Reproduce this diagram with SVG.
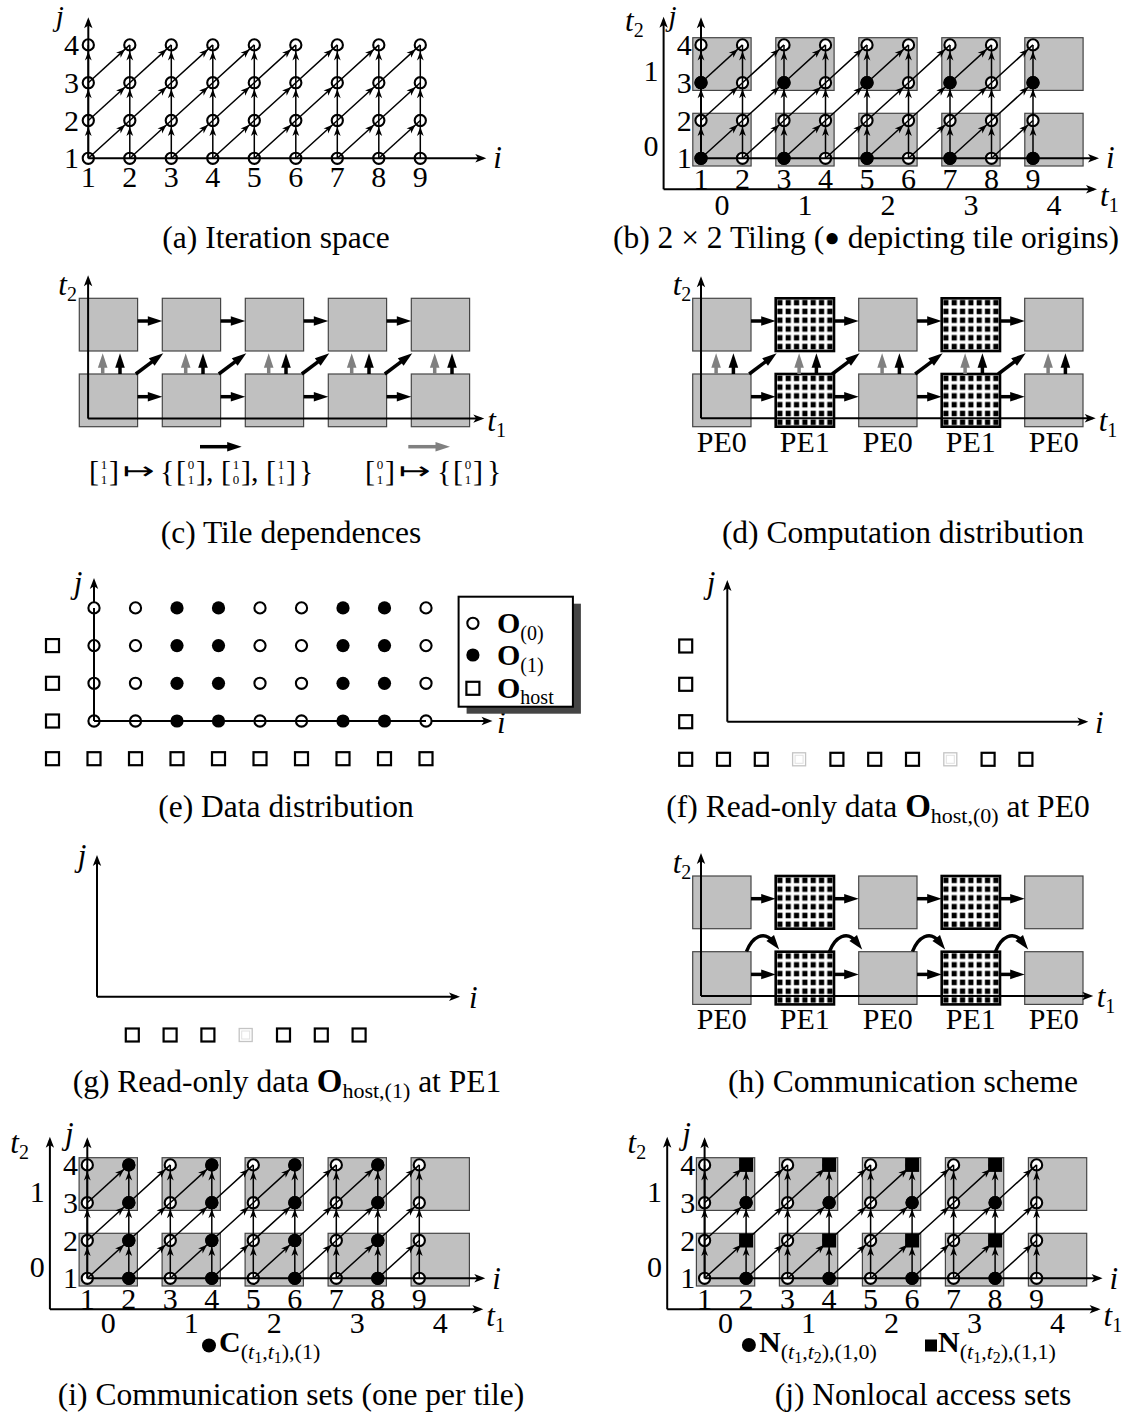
<svg xmlns="http://www.w3.org/2000/svg" width="1143" height="1427" viewBox="0 0 1143 1427">
<style>
text{font-family:"Liberation Serif","Times New Roman",serif;fill:#000}
.cap{font-size:31.5px;text-anchor:middle}
.num{font-size:30px;text-anchor:middle}
.it{font-size:31px;font-style:italic}
.itm{font-size:31px;font-style:italic;text-anchor:middle}
.jt{font-size:29px;font-style:italic;text-anchor:middle}
.sb{font-size:20px;font-style:normal}
.pe{font-size:30px;text-anchor:middle}
.fb{font-size:30px}
.fd{font-size:13px}
.mt{font-family:"DejaVu Sans",sans-serif;font-size:24px}
.bo{font-weight:bold}
.ax{fill:none;stroke:#000;stroke-width:2;marker-end:url(#axh)}
.oc{fill:#fff;stroke:#000;stroke-width:2.1}
.fc{fill:#000}
.ar{fill:none;stroke:#000;stroke-width:1.5;marker-mid:url(#ah);marker-end:url(#ah)}
.tile{fill:#c0c0c0;stroke:#454545;stroke-width:1.2}
.pe1{fill:url(#pat);stroke:#000;stroke-width:2.6}
.tk{fill:none;stroke:#000;stroke-width:3.5;marker-end:url(#tk)}
.tg{fill:none;stroke:#808080;stroke-width:3.5;marker-end:url(#tg)}
.sq{fill:#fff;stroke:#000;stroke-width:2.2}
.sqf{fill:none;stroke:#c4c4c4;stroke-width:1.3}
.sqi{fill:none;stroke:#e2e2e2;stroke-width:1}
</style>
<defs>
<marker id="ah" markerUnits="userSpaceOnUse" orient="auto" markerWidth="30" markerHeight="30" style="overflow:visible"><path d="M-6.4,0 L-15.5,-3.4 L-12.9,0 L-15.5,3.4 Z" fill="#000"/></marker>
<marker id="axh" markerUnits="userSpaceOnUse" orient="auto" markerWidth="30" markerHeight="30" style="overflow:visible"><path d="M3,0 L-8,-4.2 L-5.2,0 L-8,4.2 Z" fill="#000"/></marker>
<marker id="tk" markerUnits="userSpaceOnUse" orient="auto" markerWidth="30" markerHeight="30" style="overflow:visible"><path d="M10,0 L-4.5,-4.8 L-4.5,4.8 Z" fill="#000"/></marker>
<marker id="tg" markerUnits="userSpaceOnUse" orient="auto" markerWidth="30" markerHeight="30" style="overflow:visible"><path d="M10,0 L-4.5,-4.8 L-4.5,4.8 Z" fill="#808080"/></marker>
<pattern id="pat" patternUnits="objectBoundingBox" width="0.142857" height="0.166667"><rect width="10" height="10" fill="#fff"/><rect x="1.6" y="1.6" width="5.2" height="5.5" fill="#000"/></pattern>
<g id="tiles">
<rect class="tile" x="-8.2" y="-45" width="58.3" height="52.7"/>
<rect class="tile" x="74.8" y="-45" width="58.3" height="52.7"/>
<rect class="tile" x="157.8" y="-45" width="58.3" height="52.7"/>
<rect class="tile" x="240.8" y="-45" width="58.3" height="52.7"/>
<rect class="tile" x="323.8" y="-45" width="58.3" height="52.7"/>
<rect class="tile" x="-8.2" y="-120.6" width="58.3" height="52.7"/>
<rect class="tile" x="74.8" y="-120.6" width="58.3" height="52.7"/>
<rect class="tile" x="157.8" y="-120.6" width="58.3" height="52.7"/>
<rect class="tile" x="240.8" y="-120.6" width="58.3" height="52.7"/>
<rect class="tile" x="323.8" y="-120.6" width="58.3" height="52.7"/>
</g>
<g id="taxes">
<path class="ax" d="M-37.4,31 H393"/>
<path class="ax" d="M-37.4,31 V-138.5"/>
</g>
<g id="grid">
<g id="grid-nodes">
<circle class="oc" cx="0" cy="0" r="5.6"/><circle class="oc" cx="0" cy="-37.8" r="5.6"/><circle class="oc" cx="0" cy="-75.6" r="5.6"/><circle class="oc" cx="0" cy="-113.4" r="5.6"/>
<circle class="oc" cx="41.5" cy="0" r="5.6"/><circle class="oc" cx="41.5" cy="-37.8" r="5.6"/><circle class="oc" cx="41.5" cy="-75.6" r="5.6"/><circle class="oc" cx="41.5" cy="-113.4" r="5.6"/>
<circle class="oc" cx="83" cy="0" r="5.6"/><circle class="oc" cx="83" cy="-37.8" r="5.6"/><circle class="oc" cx="83" cy="-75.6" r="5.6"/><circle class="oc" cx="83" cy="-113.4" r="5.6"/>
<circle class="oc" cx="124.5" cy="0" r="5.6"/><circle class="oc" cx="124.5" cy="-37.8" r="5.6"/><circle class="oc" cx="124.5" cy="-75.6" r="5.6"/><circle class="oc" cx="124.5" cy="-113.4" r="5.6"/>
<circle class="oc" cx="166" cy="0" r="5.6"/><circle class="oc" cx="166" cy="-37.8" r="5.6"/><circle class="oc" cx="166" cy="-75.6" r="5.6"/><circle class="oc" cx="166" cy="-113.4" r="5.6"/>
<circle class="oc" cx="207.5" cy="0" r="5.6"/><circle class="oc" cx="207.5" cy="-37.8" r="5.6"/><circle class="oc" cx="207.5" cy="-75.6" r="5.6"/><circle class="oc" cx="207.5" cy="-113.4" r="5.6"/>
<circle class="oc" cx="249" cy="0" r="5.6"/><circle class="oc" cx="249" cy="-37.8" r="5.6"/><circle class="oc" cx="249" cy="-75.6" r="5.6"/><circle class="oc" cx="249" cy="-113.4" r="5.6"/>
<circle class="oc" cx="290.5" cy="0" r="5.6"/><circle class="oc" cx="290.5" cy="-37.8" r="5.6"/><circle class="oc" cx="290.5" cy="-75.6" r="5.6"/><circle class="oc" cx="290.5" cy="-113.4" r="5.6"/>
<circle class="oc" cx="332" cy="0" r="5.6"/><circle class="oc" cx="332" cy="-37.8" r="5.6"/><circle class="oc" cx="332" cy="-75.6" r="5.6"/><circle class="oc" cx="332" cy="-113.4" r="5.6"/>
</g>
<g id="grid-arrows">
<polyline class="ar" points="0,0 0,-37.8 0,-75.6 0,-113.4"/>
<polyline class="ar" points="41.5,0 41.5,-37.8 41.5,-75.6 41.5,-113.4"/>
<polyline class="ar" points="83,0 83,-37.8 83,-75.6 83,-113.4"/>
<polyline class="ar" points="124.5,0 124.5,-37.8 124.5,-75.6 124.5,-113.4"/>
<polyline class="ar" points="166,0 166,-37.8 166,-75.6 166,-113.4"/>
<polyline class="ar" points="207.5,0 207.5,-37.8 207.5,-75.6 207.5,-113.4"/>
<polyline class="ar" points="249,0 249,-37.8 249,-75.6 249,-113.4"/>
<polyline class="ar" points="290.5,0 290.5,-37.8 290.5,-75.6 290.5,-113.4"/>
<polyline class="ar" points="332,0 332,-37.8 332,-75.6 332,-113.4"/>
<polyline class="ar" points="0,-75.6 41.5,-113.4"/>
<polyline class="ar" points="0,-37.8 41.5,-75.6 83,-113.4"/>
<polyline class="ar" points="0,0 41.5,-37.8 83,-75.6 124.5,-113.4"/>
<polyline class="ar" points="41.5,0 83,-37.8 124.5,-75.6 166,-113.4"/>
<polyline class="ar" points="83,0 124.5,-37.8 166,-75.6 207.5,-113.4"/>
<polyline class="ar" points="124.5,0 166,-37.8 207.5,-75.6 249,-113.4"/>
<polyline class="ar" points="166,0 207.5,-37.8 249,-75.6 290.5,-113.4"/>
<polyline class="ar" points="207.5,0 249,-37.8 290.5,-75.6 332,-113.4"/>
<polyline class="ar" points="249,0 290.5,-37.8 332,-75.6"/>
<polyline class="ar" points="290.5,0 332,-37.8"/>
</g>
<path class="ax" d="M0,0 H395"/>
<path class="ax" d="M0,0 V-138"/>
</g>
</defs>
<rect width="1143" height="1427" fill="#fff"/>

<!-- (a) -->
<g id="panel-a" transform="translate(88.3,158.3)">
<use href="#grid"/>
<g id="a-labels">
<text class="num" x="-16.8" y="10">1</text><text class="num" x="-16.8" y="-27.8">2</text><text class="num" x="-16.8" y="-65.6">3</text><text class="num" x="-16.8" y="-103.4">4</text>
<text class="num" x="0" y="29">1</text><text class="num" x="41.5" y="29">2</text><text class="num" x="83" y="29">3</text><text class="num" x="124.5" y="29">4</text><text class="num" x="166" y="29">5</text><text class="num" x="207.5" y="29">6</text><text class="num" x="249" y="29">7</text><text class="num" x="290.5" y="29">8</text><text class="num" x="332" y="29">9</text>
<text class="it" x="405" y="10">i</text>
<text class="jt" x="-28.5" y="-132">j</text>
</g>
</g>
<text class="cap" x="276" y="248">(a) Iteration space</text>

<!-- (b) -->
<g id="panel-b" transform="translate(701,158.3)">
<use href="#tiles"/>
<use href="#taxes"/>
<use href="#grid"/>
<g id="b-origins">
<circle class="fc" cx="0" cy="0" r="6.6"/><circle class="fc" cx="83" cy="0" r="6.6"/><circle class="fc" cx="166" cy="0" r="6.6"/><circle class="fc" cx="249" cy="0" r="6.6"/><circle class="fc" cx="332" cy="0" r="6.6"/>
<circle class="fc" cx="0" cy="-75.6" r="6.6"/><circle class="fc" cx="83" cy="-75.6" r="6.6"/><circle class="fc" cx="166" cy="-75.6" r="6.6"/><circle class="fc" cx="249" cy="-75.6" r="6.6"/><circle class="fc" cx="332" cy="-75.6" r="6.6"/>
</g>
<g id="b-labels">
<text class="num" x="-16.8" y="10">1</text><text class="num" x="-16.8" y="-27.8">2</text><text class="num" x="-16.8" y="-65.6">3</text><text class="num" x="-16.8" y="-103.4">4</text>
<text class="num" x="0" y="31">1</text><text class="num" x="41.5" y="31">2</text><text class="num" x="83" y="31">3</text><text class="num" x="124.5" y="31">4</text><text class="num" x="166" y="31">5</text><text class="num" x="207.5" y="31">6</text><text class="num" x="249" y="31">7</text><text class="num" x="290.5" y="31">8</text><text class="num" x="332" y="31">9</text>
<text class="num" x="-50" y="-77">1</text><text class="num" x="-50" y="-2">0</text>
<text class="num" x="20.95" y="57">0</text><text class="num" x="103.95" y="57">1</text><text class="num" x="186.95" y="57">2</text><text class="num" x="269.95" y="57">3</text><text class="num" x="352.95" y="57">4</text>
<text class="it" x="405" y="10">i</text>
<text class="jt" x="-28.5" y="-132">j</text>
<text class="it" x="399" y="48">t<tspan class="sb" dy="6">1</tspan></text>
<text class="it" x="-76" y="-127">t<tspan class="sb" dy="6">2</tspan></text>
</g>
</g>
<text class="cap" x="866" y="248">(b) 2 × 2 Tiling (<tspan font-size="26" dy="-2">●</tspan><tspan dy="2"> depicting tile origins)</tspan></text>

<!-- (c) -->
<g id="panel-c" transform="translate(79.3,298.3)">
<g id="c-tiles">
<rect class="tile" x="0" y="0" width="58.3" height="52.7"/><rect class="tile" x="83" y="0" width="58.3" height="52.7"/><rect class="tile" x="166" y="0" width="58.3" height="52.7"/><rect class="tile" x="249" y="0" width="58.3" height="52.7"/><rect class="tile" x="332" y="0" width="58.3" height="52.7"/>
<rect class="tile" x="0" y="75.7" width="58.3" height="52.7"/><rect class="tile" x="83" y="75.7" width="58.3" height="52.7"/><rect class="tile" x="166" y="75.7" width="58.3" height="52.7"/><rect class="tile" x="249" y="75.7" width="58.3" height="52.7"/><rect class="tile" x="332" y="75.7" width="58.3" height="52.7"/>
</g>
<path class="ax" d="M8.8,120.3 H402"/>
<path class="ax" d="M8.8,120.3 V-20"/>
<g id="c-arrows">
<path class="tk" d="M58.3,22.7 H73"/><path class="tk" d="M141.3,22.7 H156"/><path class="tk" d="M224.3,22.7 H239"/><path class="tk" d="M307.3,22.7 H322"/>
<path class="tk" d="M58.3,98.4 H73"/><path class="tk" d="M141.3,98.4 H156"/><path class="tk" d="M224.3,98.4 H239"/><path class="tk" d="M307.3,98.4 H322"/>
<path class="tg" d="M23.4,75.7 V65"/><path class="tg" d="M106.4,75.7 V65"/><path class="tg" d="M189.4,75.7 V65"/><path class="tg" d="M272.4,75.7 V65"/><path class="tg" d="M355.4,75.7 V65"/>
<path class="tk" d="M40.7,75.7 V65"/><path class="tk" d="M123.7,75.7 V65"/><path class="tk" d="M206.7,75.7 V65"/><path class="tk" d="M289.7,75.7 V65"/><path class="tk" d="M372.7,75.7 V65"/>
<path class="tk" d="M56.5,75.7 L76,61"/><path class="tk" d="M139.5,75.7 L159,61"/><path class="tk" d="M222.5,75.7 L242,61"/><path class="tk" d="M305.5,75.7 L325,61"/>
</g>
<text class="it" x="-21" y="-3">t<tspan class="sb" dy="6">2</tspan></text>
<text class="it" x="408" y="132.5">t<tspan class="sb" dy="6">1</tspan></text>
</g>
<g id="c-legend">
<path class="tk" d="M200,446.7 H231.7"/>
<path class="tg" d="M408.3,446.7 H440"/>
<text class="fb"><tspan x="89" y="481">[</tspan><tspan class="fd" x="100.75" y="468.5">1</tspan><tspan class="fd" x="100.75" y="484">1</tspan><tspan x="109" y="481">]</tspan></text>
<text class="mt" x="123" y="479" textLength="32" lengthAdjust="spacingAndGlyphs">↦</text>
<text class="fb"><tspan x="160" y="481">{</tspan><tspan x="176" y="481">[</tspan><tspan class="fd" x="187.75" y="468.5">0</tspan><tspan class="fd" x="187.75" y="484">1</tspan><tspan x="196" y="481">]</tspan><tspan x="206" y="481">,</tspan><tspan x="221" y="481">[</tspan><tspan class="fd" x="232.75" y="468.5">1</tspan><tspan class="fd" x="232.75" y="484">0</tspan><tspan x="241" y="481">]</tspan><tspan x="251" y="481">,</tspan><tspan x="266" y="481">[</tspan><tspan class="fd" x="277.75" y="468.5">1</tspan><tspan class="fd" x="277.75" y="484">1</tspan><tspan x="286" y="481">]</tspan><tspan x="299" y="481">}</tspan></text>
<text class="fb"><tspan x="365" y="481">[</tspan><tspan class="fd" x="376.75" y="468.5">0</tspan><tspan class="fd" x="376.75" y="484">1</tspan><tspan x="385" y="481">]</tspan></text>
<text class="mt" x="399" y="479" textLength="32" lengthAdjust="spacingAndGlyphs">↦</text>
<text class="fb"><tspan x="437" y="481">{</tspan><tspan x="453" y="481">[</tspan><tspan class="fd" x="464.75" y="468.5">0</tspan><tspan class="fd" x="464.75" y="484">1</tspan><tspan x="473" y="481">]</tspan><tspan x="487" y="481">}</tspan></text>
</g>
<text class="cap" x="291" y="543">(c) Tile dependences</text>

<!-- (d) -->
<g id="panel-d" transform="translate(692.7,298.3)">
<g id="d-tiles">
<rect class="tile" x="0" y="0" width="58.3" height="52.7"/><rect class="pe1" x="83" y="0" width="58.3" height="52.7"/><rect class="tile" x="166" y="0" width="58.3" height="52.7"/><rect class="pe1" x="249" y="0" width="58.3" height="52.7"/><rect class="tile" x="332" y="0" width="58.3" height="52.7"/>
<rect class="tile" x="0" y="75.7" width="58.3" height="52.7"/><rect class="pe1" x="83" y="75.7" width="58.3" height="52.7"/><rect class="tile" x="166" y="75.7" width="58.3" height="52.7"/><rect class="pe1" x="249" y="75.7" width="58.3" height="52.7"/><rect class="tile" x="332" y="75.7" width="58.3" height="52.7"/>
</g>
<path class="ax" d="M8.3,120 H400"/>
<path class="ax" d="M8.3,120 V-19"/>
<g id="d-arrows">
<path class="tk" d="M58.3,22.7 H73"/><path class="tk" d="M141.3,22.7 H156"/><path class="tk" d="M224.3,22.7 H239"/><path class="tk" d="M307.3,22.7 H322"/>
<path class="tk" d="M58.3,98.4 H73"/><path class="tk" d="M141.3,98.4 H156"/><path class="tk" d="M224.3,98.4 H239"/><path class="tk" d="M307.3,98.4 H322"/>
<path class="tg" d="M23.4,75.7 V65"/><path class="tg" d="M106.4,75.7 V65"/><path class="tg" d="M189.4,75.7 V65"/><path class="tg" d="M272.4,75.7 V65"/><path class="tg" d="M355.4,75.7 V65"/>
<path class="tk" d="M40.7,75.7 V65"/><path class="tk" d="M123.7,75.7 V65"/><path class="tk" d="M206.7,75.7 V65"/><path class="tk" d="M289.7,75.7 V65"/><path class="tk" d="M372.7,75.7 V65"/>
<path class="tk" d="M56.5,75.7 L76,61"/><path class="tk" d="M139.5,75.7 L159,61"/><path class="tk" d="M222.5,75.7 L242,61"/><path class="tk" d="M305.5,75.7 L325,61"/>
</g>
<text class="it" x="-20" y="-3">t<tspan class="sb" dy="6">2</tspan></text>
<text class="it" x="406" y="132.5">t<tspan class="sb" dy="6">1</tspan></text>
<text class="pe" x="29.15" y="154">PE0</text><text class="pe" x="112.15" y="154">PE1</text><text class="pe" x="195.15" y="154">PE0</text><text class="pe" x="278.15" y="154">PE1</text><text class="pe" x="361.15" y="154">PE0</text>
</g>
<text class="cap" x="903" y="543">(d) Computation distribution</text>

<!-- (e) -->
<g id="panel-e">
<g id="e-host">
<rect class="sq" x="46" y="714.5" width="13" height="13"/><rect class="sq" x="46" y="676.8" width="13" height="13"/><rect class="sq" x="46" y="639.1" width="13" height="13"/>
<rect class="sq" x="46" y="752.2" width="13" height="13"/><rect class="sq" x="87.5" y="752.2" width="13" height="13"/><rect class="sq" x="129" y="752.2" width="13" height="13"/><rect class="sq" x="170.5" y="752.2" width="13" height="13"/><rect class="sq" x="212" y="752.2" width="13" height="13"/><rect class="sq" x="253.5" y="752.2" width="13" height="13"/><rect class="sq" x="295" y="752.2" width="13" height="13"/><rect class="sq" x="336.5" y="752.2" width="13" height="13"/><rect class="sq" x="378" y="752.2" width="13" height="13"/><rect class="sq" x="419.5" y="752.2" width="13" height="13"/>
</g>
<path class="ax" d="M94,721 H489.5"/>
<path class="ax" d="M94,721 V581"/>
<g id="e-nodes">
<circle class="oc" cx="94" cy="721" r="5.6"/><circle class="oc" cx="94" cy="683.3" r="5.6"/><circle class="oc" cx="94" cy="645.6" r="5.6"/><circle class="oc" cx="94" cy="607.9" r="5.6"/>
<circle class="oc" cx="135.5" cy="721" r="5.6"/><circle class="oc" cx="135.5" cy="683.3" r="5.6"/><circle class="oc" cx="135.5" cy="645.6" r="5.6"/><circle class="oc" cx="135.5" cy="607.9" r="5.6"/>
<circle class="fc" cx="177" cy="721" r="6.6"/><circle class="fc" cx="177" cy="683.3" r="6.6"/><circle class="fc" cx="177" cy="645.6" r="6.6"/><circle class="fc" cx="177" cy="607.9" r="6.6"/>
<circle class="fc" cx="218.5" cy="721" r="6.6"/><circle class="fc" cx="218.5" cy="683.3" r="6.6"/><circle class="fc" cx="218.5" cy="645.6" r="6.6"/><circle class="fc" cx="218.5" cy="607.9" r="6.6"/>
<circle class="oc" cx="260" cy="721" r="5.6"/><circle class="oc" cx="260" cy="683.3" r="5.6"/><circle class="oc" cx="260" cy="645.6" r="5.6"/><circle class="oc" cx="260" cy="607.9" r="5.6"/>
<circle class="oc" cx="301.5" cy="721" r="5.6"/><circle class="oc" cx="301.5" cy="683.3" r="5.6"/><circle class="oc" cx="301.5" cy="645.6" r="5.6"/><circle class="oc" cx="301.5" cy="607.9" r="5.6"/>
<circle class="fc" cx="343" cy="721" r="6.6"/><circle class="fc" cx="343" cy="683.3" r="6.6"/><circle class="fc" cx="343" cy="645.6" r="6.6"/><circle class="fc" cx="343" cy="607.9" r="6.6"/>
<circle class="fc" cx="384.5" cy="721" r="6.6"/><circle class="fc" cx="384.5" cy="683.3" r="6.6"/><circle class="fc" cx="384.5" cy="645.6" r="6.6"/><circle class="fc" cx="384.5" cy="607.9" r="6.6"/>
<circle class="oc" cx="426" cy="721" r="5.6"/><circle class="oc" cx="426" cy="683.3" r="5.6"/><circle class="oc" cx="426" cy="645.6" r="5.6"/><circle class="oc" cx="426" cy="607.9" r="5.6"/>
</g>
<path d="M94,721 V608" stroke="#000" stroke-width="2"/>
<path d="M94,721 H426" stroke="#000" stroke-width="2"/>
<text class="itm" x="78" y="593">j</text>
<text class="it" x="497" y="733">i</text>
<g id="e-legend">
<rect x="466.6" y="603.7" width="114.3" height="110" fill="#444"/>
<rect x="458.6" y="596.7" width="114.3" height="110" fill="#fff" stroke="#000" stroke-width="2"/>
<circle class="oc" cx="472.9" cy="623.3" r="5.6"/>
<circle class="fc" cx="472.9" cy="655" r="6.6"/>
<rect class="sq" x="466.4" y="681.8" width="13" height="13"/>
<text class="fb bo" x="497" y="633">O<tspan class="sb" font-weight="normal" dy="7">(0)</tspan></text>
<text class="fb bo" x="497" y="665">O<tspan class="sb" font-weight="normal" dy="7">(1)</tspan></text>
<text class="fb bo" x="497" y="698">O<tspan class="sb" font-weight="normal" dy="6">host</tspan></text>
</g>
</g>
<text class="cap" x="286" y="817">(e) Data distribution</text>

<!-- (f) -->
<g id="panel-f">
<path class="ax" d="M727.3,721.7 H1085.3"/>
<path class="ax" d="M727.3,721.7 V583"/>
<text class="itm" x="711" y="593">j</text>
<text class="it" x="1095" y="733">i</text>
<g id="f-host">
<rect class="sq" x="679.2" y="639.5" width="13" height="13"/><rect class="sq" x="679.2" y="677.8" width="13" height="13"/><rect class="sq" x="679.2" y="715.2" width="13" height="13"/>
<rect class="sq" x="679.2" y="752.8" width="13" height="13"/><rect class="sq" x="717" y="752.8" width="13" height="13"/><rect class="sq" x="754.8" y="752.8" width="13" height="13"/>
<rect class="sqf" x="792.6" y="752.8" width="13" height="13"/><rect class="sqi" x="795.1" y="755.3" width="8" height="8"/>
<rect class="sq" x="830.4" y="752.8" width="13" height="13"/><rect class="sq" x="868.2" y="752.8" width="13" height="13"/><rect class="sq" x="906" y="752.8" width="13" height="13"/>
<rect class="sqf" x="943.8" y="752.8" width="13" height="13"/><rect class="sqi" x="946.3" y="755.3" width="8" height="8"/>
<rect class="sq" x="981.6" y="752.8" width="13" height="13"/><rect class="sq" x="1019.4" y="752.8" width="13" height="13"/>
</g>
</g>
<text class="cap" x="878" y="817">(f) Read-only data <tspan font-weight="bold" font-size="33">O</tspan><tspan font-size="22" dy="6">host,(0)</tspan><tspan dy="-6"> at PE0</tspan></text>

<!-- (g) -->
<g id="panel-g">
<path class="ax" d="M97,996.7 H457"/>
<path class="ax" d="M97,996.7 V858"/>
<text class="itm" x="82" y="866">j</text>
<text class="it" x="469" y="1008">i</text>
<g id="g-host">
<rect class="sq" x="125.8" y="1028.5" width="13" height="13"/><rect class="sq" x="163.6" y="1028.5" width="13" height="13"/><rect class="sq" x="201.4" y="1028.5" width="13" height="13"/>
<rect class="sqf" x="239.2" y="1028.5" width="13" height="13"/><rect class="sqi" x="241.7" y="1031" width="8" height="8"/>
<rect class="sq" x="277" y="1028.5" width="13" height="13"/><rect class="sq" x="314.8" y="1028.5" width="13" height="13"/><rect class="sq" x="352.6" y="1028.5" width="13" height="13"/>
</g>
</g>
<text class="cap" x="287" y="1092">(g) Read-only data <tspan font-weight="bold" font-size="33">O</tspan><tspan font-size="22" dy="6">host,(1)</tspan><tspan dy="-6"> at PE1</tspan></text>

<!-- (h) -->
<g id="panel-h" transform="translate(692.7,876)">
<g id="h-tiles">
<rect class="tile" x="0" y="0" width="58.3" height="52.7"/><rect class="pe1" x="83" y="0" width="58.3" height="52.7"/><rect class="tile" x="166" y="0" width="58.3" height="52.7"/><rect class="pe1" x="249" y="0" width="58.3" height="52.7"/><rect class="tile" x="332" y="0" width="58.3" height="52.7"/>
<rect class="tile" x="0" y="75.7" width="58.3" height="52.7"/><rect class="pe1" x="83" y="75.7" width="58.3" height="52.7"/><rect class="tile" x="166" y="75.7" width="58.3" height="52.7"/><rect class="pe1" x="249" y="75.7" width="58.3" height="52.7"/><rect class="tile" x="332" y="75.7" width="58.3" height="52.7"/>
</g>
<path class="ax" d="M8.3,120 H397.6"/>
<path class="ax" d="M8.3,120 V-20"/>
<g id="h-arrows">
<path class="tk" d="M58.3,22.7 H73"/><path class="tk" d="M141.3,22.7 H156"/><path class="tk" d="M224.3,22.7 H239"/><path class="tk" d="M307.3,22.7 H322"/>
<path class="tk" d="M58.3,98.4 H73"/><path class="tk" d="M141.3,98.4 H156"/><path class="tk" d="M224.3,98.4 H239"/><path class="tk" d="M307.3,98.4 H322"/>
<path class="tk" d="M53.8,75.5 C59.3,61 71.3,54 80.3,65.5"/>
<path class="tk" d="M136.8,75.5 C142.3,61 154.3,54 163.3,65.5"/>
<path class="tk" d="M219.8,75.5 C225.3,61 237.3,54 246.3,65.5"/>
<path class="tk" d="M302.8,75.5 C308.3,61 320.3,54 329.3,65.5"/>
</g>
<text class="it" x="-20" y="-3">t<tspan class="sb" dy="6">2</tspan></text>
<text class="it" x="404" y="130.5">t<tspan class="sb" dy="6">1</tspan></text>
<text class="pe" x="29.15" y="153">PE0</text><text class="pe" x="112.15" y="153">PE1</text><text class="pe" x="195.15" y="153">PE0</text><text class="pe" x="278.15" y="153">PE1</text><text class="pe" x="361.15" y="153">PE0</text>
</g>
<text class="cap" x="903" y="1092">(h) Communication scheme</text>

<!-- (i) -->
<g id="panel-i" transform="translate(87.3,1278.3)">
<use href="#tiles"/>
<use href="#taxes"/>
<use href="#grid"/>
<g id="i-comm">
<circle class="fc" cx="41.5" cy="0" r="6.6"/><circle class="fc" cx="41.5" cy="-37.8" r="6.6"/><circle class="fc" cx="41.5" cy="-75.6" r="6.6"/><circle class="fc" cx="41.5" cy="-113.4" r="6.6"/>
<circle class="fc" cx="124.5" cy="0" r="6.6"/><circle class="fc" cx="124.5" cy="-37.8" r="6.6"/><circle class="fc" cx="124.5" cy="-75.6" r="6.6"/><circle class="fc" cx="124.5" cy="-113.4" r="6.6"/>
<circle class="fc" cx="207.5" cy="0" r="6.6"/><circle class="fc" cx="207.5" cy="-37.8" r="6.6"/><circle class="fc" cx="207.5" cy="-75.6" r="6.6"/><circle class="fc" cx="207.5" cy="-113.4" r="6.6"/>
<circle class="fc" cx="290.5" cy="0" r="6.6"/><circle class="fc" cx="290.5" cy="-37.8" r="6.6"/><circle class="fc" cx="290.5" cy="-75.6" r="6.6"/><circle class="fc" cx="290.5" cy="-113.4" r="6.6"/>
</g>
<g id="i-labels">
<text class="num" x="-16.8" y="10">1</text><text class="num" x="-16.8" y="-27.8">2</text><text class="num" x="-16.8" y="-65.6">3</text><text class="num" x="-16.8" y="-103.4">4</text>
<text class="num" x="0" y="31">1</text><text class="num" x="41.5" y="31">2</text><text class="num" x="83" y="31">3</text><text class="num" x="124.5" y="31">4</text><text class="num" x="166" y="31">5</text><text class="num" x="207.5" y="31">6</text><text class="num" x="249" y="31">7</text><text class="num" x="290.5" y="31">8</text><text class="num" x="332" y="31">9</text>
<text class="num" x="-50" y="-76.5">1</text><text class="num" x="-50" y="-1.5">0</text>
<text class="num" x="20.95" y="55">0</text><text class="num" x="103.95" y="55">1</text><text class="num" x="186.95" y="55">2</text><text class="num" x="269.95" y="55">3</text><text class="num" x="352.95" y="55">4</text>
<text class="it" x="405" y="11">i</text>
<text class="itm" x="-18" y="-134">j</text>
<text class="it" x="399" y="48">t<tspan class="sb" dy="6">1</tspan></text>
<text class="it" x="-77" y="-125">t<tspan class="sb" dy="6">2</tspan></text>
</g>
</g>
<g id="i-legend">
<circle class="fc" cx="209" cy="1345.5" r="7"/>
<text class="fb bo" x="219" y="1352">C<tspan font-weight="normal" font-size="22" dy="7">(</tspan><tspan font-weight="normal" font-size="22" font-style="italic">t</tspan><tspan font-weight="normal" font-size="16" dy="4">1</tspan><tspan font-weight="normal" font-size="22" dy="-4">,</tspan><tspan font-weight="normal" font-size="22" font-style="italic">t</tspan><tspan font-weight="normal" font-size="16" dy="4">1</tspan><tspan font-weight="normal" font-size="22" dy="-4">),(1)</tspan></text>
</g>
<text class="cap" x="291" y="1405">(i) Communication sets (one per tile)</text>

<!-- (j) -->
<g id="panel-j" transform="translate(704.6,1278.3)">
<use href="#tiles"/>
<use href="#taxes"/>
<use href="#grid"/>
<g id="j-nonlocal">
<circle class="fc" cx="41.5" cy="0" r="6.6"/><circle class="fc" cx="41.5" cy="-75.6" r="6.6"/>
<circle class="fc" cx="124.5" cy="0" r="6.6"/><circle class="fc" cx="124.5" cy="-75.6" r="6.6"/>
<circle class="fc" cx="207.5" cy="0" r="6.6"/><circle class="fc" cx="207.5" cy="-75.6" r="6.6"/>
<circle class="fc" cx="290.5" cy="0" r="6.6"/><circle class="fc" cx="290.5" cy="-75.6" r="6.6"/>
<rect class="fc" x="34.5" y="-44.8" width="14" height="14"/><rect class="fc" x="34.5" y="-120.4" width="14" height="14"/>
<rect class="fc" x="117.5" y="-44.8" width="14" height="14"/><rect class="fc" x="117.5" y="-120.4" width="14" height="14"/>
<rect class="fc" x="200.5" y="-44.8" width="14" height="14"/><rect class="fc" x="200.5" y="-120.4" width="14" height="14"/>
<rect class="fc" x="283.5" y="-44.8" width="14" height="14"/><rect class="fc" x="283.5" y="-120.4" width="14" height="14"/>
</g>
<g id="j-labels">
<text class="num" x="-16.8" y="10">1</text><text class="num" x="-16.8" y="-27.8">2</text><text class="num" x="-16.8" y="-65.6">3</text><text class="num" x="-16.8" y="-103.4">4</text>
<text class="num" x="0" y="31">1</text><text class="num" x="41.5" y="31">2</text><text class="num" x="83" y="31">3</text><text class="num" x="124.5" y="31">4</text><text class="num" x="166" y="31">5</text><text class="num" x="207.5" y="31">6</text><text class="num" x="249" y="31">7</text><text class="num" x="290.5" y="31">8</text><text class="num" x="332" y="31">9</text>
<text class="num" x="-50" y="-76.5">1</text><text class="num" x="-50" y="-1.5">0</text>
<text class="num" x="20.95" y="55">0</text><text class="num" x="103.95" y="55">1</text><text class="num" x="186.95" y="55">2</text><text class="num" x="269.95" y="55">3</text><text class="num" x="352.95" y="55">4</text>
<text class="it" x="405" y="11">i</text>
<text class="itm" x="-18" y="-134">j</text>
<text class="it" x="399" y="48">t<tspan class="sb" dy="6">1</tspan></text>
<text class="it" x="-77" y="-125">t<tspan class="sb" dy="6">2</tspan></text>
</g>
</g>
<g id="j-legend">
<circle class="fc" cx="748.9" cy="1345" r="7"/>
<text class="fb bo" x="759" y="1352">N<tspan font-weight="normal" font-size="22" dy="7">(</tspan><tspan font-weight="normal" font-size="22" font-style="italic">t</tspan><tspan font-weight="normal" font-size="16" dy="4">1</tspan><tspan font-weight="normal" font-size="22" dy="-4">,</tspan><tspan font-weight="normal" font-size="22" font-style="italic">t</tspan><tspan font-weight="normal" font-size="16" dy="4">2</tspan><tspan font-weight="normal" font-size="22" dy="-4">),(1,0)</tspan></text>
<rect class="fc" x="925" y="1339.5" width="12" height="12"/>
<text class="fb bo" x="938" y="1352">N<tspan font-weight="normal" font-size="22" dy="7">(</tspan><tspan font-weight="normal" font-size="22" font-style="italic">t</tspan><tspan font-weight="normal" font-size="16" dy="4">1</tspan><tspan font-weight="normal" font-size="22" dy="-4">,</tspan><tspan font-weight="normal" font-size="22" font-style="italic">t</tspan><tspan font-weight="normal" font-size="16" dy="4">2</tspan><tspan font-weight="normal" font-size="22" dy="-4">),(1,1)</tspan></text>
</g>
<text class="cap" x="923" y="1405">(j) Nonlocal access sets</text>
</svg>
